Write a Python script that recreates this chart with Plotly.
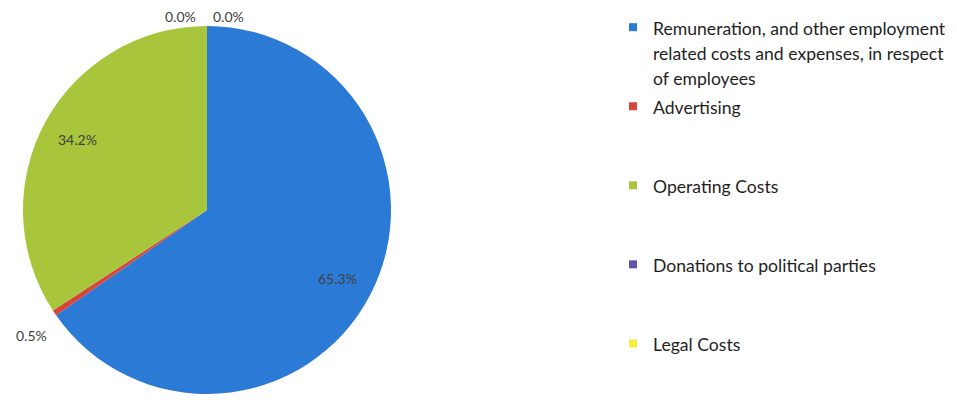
import math
import plotly.graph_objects as go

labels = [
    "Remuneration, and other employment related costs and expenses, in respect of employees",
    "Advertising",
    "Operating Costs",
    "Donations to political parties",
    "Legal Costs",
]
values = [65.3, 0.5, 34.2, 0.0, 0.0]
colors = ["#2a7ad6", "#d8463a", "#a8c53c", "#6257a6", "#f6ee3c"]

# legend line-wrapping of the long first label
wrapped_lines = {
    0: ["Remuneration, and other employment",
        "related costs and expenses, in respect",
        "of employees"],
}

total = sum(values)
pct_text = [f"{v / total * 100:.1f}%" for v in values]

W, H = 957, 400
OFF = 8  # page body margin of the browser
GLYPH = 17.6

# pie placement (page pixels)
PIE_L, PIE_R, PIE_T, PIE_B = 22, 392, 26, 394
CX, CY = (PIE_L + PIE_R) / 2, (PIE_T + PIE_B) / 2
RAD = min(PIE_R - PIE_L, PIE_B - PIE_T) / 2


def px_x(x):
    return (x - OFF) / W


def px_y(y):
    return 1 - (y - OFF) / H


def legend_label(i):
    lines = wrapped_lines.get(i, [labels[i]])
    spans = [f"<span style='font-size:{GLYPH}px'>{ln}</span>" for ln in lines]
    if i < len(labels) - 1:
        spans += [" "] * max(0, 3 - len(lines))
    return "<br>".join(spans)


fig = go.Figure()
fig.add_trace(
    go.Pie(
        labels=labels,
        values=values,
        sort=False,
        direction="clockwise",
        rotation=0,
        marker=dict(colors=colors, line=dict(width=0)),
        textinfo="none",
        domain=dict(x=[px_x(PIE_L), px_x(PIE_R)], y=[px_y(PIE_B), px_y(PIE_T)]),
        hoverinfo="label+percent",
        showlegend=False,
    )
)

# legend entries (small square swatches)
for i in range(len(labels)):
    fig.add_trace(
        go.Scatter(
            x=[None], y=[None], mode="markers",
            marker=dict(symbol="square", size=8, color=colors[i]),
            name=legend_label(i), showlegend=True, hoverinfo="skip",
        )
    )

label_font = dict(family="Lato", size=14, color="#404040")

# inside labels of the large slices, at 0.8 of the radius on the mid-angle
cum = 0.0
for i, v in enumerate(values):
    mid = (cum + v / 2) / total * 2 * math.pi
    cum += v
    if v / total < 0.05:
        continue
    lx = CX + 0.8 * RAD * math.sin(mid)
    ly = CY - 0.8 * RAD * math.cos(mid)
    fig.add_annotation(
        x=px_x(lx), y=px_y(ly), xref="paper", yref="paper",
        xanchor="center", yanchor="middle",
        text=pct_text[i], showarrow=False, font=label_font,
    )

# labels for the small slices, placed outside the pie
outside = [(1, 31, 335), (3, 180, 17), (4, 228, 17)]
for idx, xs, ys in outside:
    fig.add_annotation(
        x=px_x(xs), y=px_y(ys), xref="paper", yref="paper",
        xanchor="center", yanchor="middle",
        text=pct_text[idx], showarrow=False, font=label_font,
    )

fig.update_layout(
    width=W,
    height=H,
    margin=dict(l=0, r=0, t=0, b=0),
    paper_bgcolor="white",
    plot_bgcolor="white",
    font=dict(family="Lato", color="#262626"),
    xaxis=dict(visible=False),
    yaxis=dict(visible=False),
    legend=dict(
        x=605 / W,
        y=1.0,
        xanchor="left",
        yanchor="top",
        valign="top",
        font=dict(family="Lato", size=19.5, color="#1f1f1f"),
        itemwidth=30,
        tracegroupgap=0,
        maxheight=600,
    ),
    showlegend=True,
)

fig.write_html("out.html")
